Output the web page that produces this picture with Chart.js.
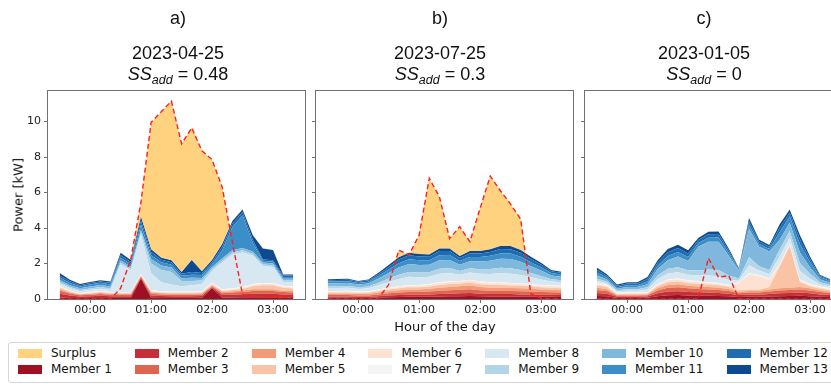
<!DOCTYPE html>
<html>
<head>
<meta charset="utf-8">
<script src="https://cdn.jsdelivr.net/npm/chart.js@4.4.1/dist/chart.umd.min.js"></script>
<style>
  html, body { margin: 0; padding: 0; width: 831px; height: 384px; overflow: hidden; background: #fff; }
  #fig { position: relative; width: 831px; height: 384px; overflow: hidden; }
  #fig canvas { position: absolute; left: 0; top: 0; }
  .ttl { position: absolute; font-family: "Liberation Sans", Arial, sans-serif; font-size: 18px; line-height: 18px;
         color: #111; white-space: nowrap; transform: translateX(-50%); }
  .ttl sub { font-size: 12.5px; font-style: italic; vertical-align: -4px; line-height: 0; }
  .axlab { position: absolute; font-family: "DejaVu Sans", sans-serif; font-size: 13px; line-height: 13px;
           color: #111; white-space: nowrap; }
  #legend { position: absolute; left: 8px; top: 342px; height: 37px; width: max-content; box-sizing: content-box;
            border: 1px solid #d6d6d6; border-radius: 3px; background: #fff; padding: 2px 9px 0 9px;
            display: grid; grid-auto-flow: column; grid-template-rows: 16px 16px; column-gap: 23px;
            font-family: "DejaVu Sans", sans-serif; font-size: 12px; color: #111; }
  #legend .it { display: flex; align-items: center; height: 16px; white-space: nowrap; }
  #legend .sw { display: inline-block; width: 24px; height: 9px; margin-right: 9px; }
</style>
</head>
<body>
<div id="fig">
  <canvas id="chartA" width="860" height="384"></canvas>
  <canvas id="chartB" width="860" height="384"></canvas>
  <canvas id="chartC" width="860" height="384"></canvas>
  <div id="legend"></div>
</div>
<script>
// ---- time axis (minutes relative to 00:00), ticks ----
const minutes = [-30, -20, -10, 0, 10, 20, 30, 40, 50, 60, 70, 80, 90, 100, 110, 120, 130, 140, 150, 160, 170, 180, 190, 200];
const xTicks = [0, 60, 120, 180];
const xTickLabels = ['00:00', '01:00', '02:00', '03:00'];
const yTicks = [0, 2, 4, 6, 8, 10];

// ---- panel headings ----
const panelTags = ['a)', 'b)', 'c)'];
const panelDates = ['2023-04-25', '2023-07-25', '2023-01-05'];
const panelSSadd = [0.48, 0.3, 0];

// ---- 2023-04-25: member consumption [kW] ----
const apr25_m1  = [.08,.06,.05,.05,.06,.05,.05,.05,1.15,.07,.06,.06,.06,.06,.07,.6,.08,.09,.1,.1,.1,.1,.09,.09];
const apr25_m2  = [.22,.14,.09,.11,.12,.11,.1,.1,.05,.12,.11,.1,.1,.1,.1,.06,.14,.15,.17,.2,.2,.2,.17,.16];
const apr25_m3  = [.17,.11,.07,.08,.1,.08,.08,.08,.05,.1,.09,.08,.08,.08,.08,.05,.11,.12,.13,.15,.15,.15,.13,.12];
const apr25_m4  = [.1,.06,.04,.05,.06,.05,.06,.06,.04,.07,.06,.06,.06,.06,.06,.05,.07,.08,.08,.1,.1,.1,.08,.08];
const apr25_m5  = [.07,.05,.03,.04,.05,.04,.04,.04,.04,.05,.05,.05,.05,.05,.05,.06,.06,.07,.09,.17,.22,.22,.16,.14];
const apr25_m6  = [.05,.03,.02,.03,.03,.03,.03,.03,.04,.04,.03,.03,.03,.03,.04,.05,.04,.04,.05,.08,.08,.08,.07,.06];
const apr25_m7  = [.04,.03,.03,.03,.03,.03,.04,.04,.05,.05,.04,.04,.04,.04,.04,.05,.05,.05,.05,.05,.05,.05,.04,.04];
const apr25_m8  = [.15,.12,.1,.12,.13,.12,1.55,1.2,2.2,.95,.5,.4,.3,.35,.4,.65,1.5,1.9,1.95,1.6,.95,.9,.2,.25];
const apr25_m9  = [.09,.08,.08,.08,.09,.08,.1,.1,.12,.55,.7,.7,.3,.25,.2,.12,.12,.12,.12,.1,.1,.1,.1,.1];
const apr25_m10 = [.1,.1,.1,.11,.12,.11,.12,.12,.15,.25,.25,.25,.15,.18,.15,.12,.13,.13,.13,.12,.1,.1,.1,.1];
const apr25_m11 = [.14,.12,.1,.12,.12,.12,.15,.14,.3,.22,.18,.16,.14,.17,.16,.15,.45,1.3,1.83,.5,.1,.1,.1,.1];
const apr25_m12 = [.12,.1,.07,.08,.08,.09,.14,.12,.24,.18,.14,.14,.11,.15,.12,.13,.2,.2,.2,.18,.08,.08,.08,.08];
const apr25_m13 = [.14,.08,.06,.06,.06,.07,.15,.12,.2,.15,.12,.12,.1,.68,.1,.11,.15,.15,.15,.25,.62,.58,.06,.06];
const apr25_pv  = [0,0,0,0,0,0,.6,2.25,5.45,9.95,10.55,11.15,8.75,9.65,8.35,7.85,6.3,3.2,.25,.15,.12,.1,.1,.1];

// ---- 2023-07-25 ----
const jul25_m1  = [.07,.07,.07,.06,.06,.08,.1,.11,.12,.12,.13,.14,.15,.16,.17,.15,.14,.14,.14,.13,.13,.12,.12,.11];
const jul25_m2  = [.07,.07,.07,.06,.06,.08,.1,.11,.12,.12,.13,.14,.15,.16,.17,.15,.14,.14,.14,.13,.13,.12,.12,.11];
const jul25_m3  = [.08,.08,.08,.08,.08,.1,.12,.14,.15,.15,.16,.18,.19,.2,.21,.19,.18,.18,.17,.17,.16,.15,.14,.14];
const jul25_m4  = [.08,.08,.08,.08,.08,.1,.12,.14,.15,.15,.16,.18,.19,.2,.21,.19,.18,.18,.17,.17,.16,.15,.14,.14];
const jul25_m5  = [.06,.06,.07,.06,.07,.08,.09,.1,.12,.12,.13,.15,.16,.15,.17,.15,.15,.15,.14,.14,.13,.12,.12,.11];
const jul25_m6  = [.05,.05,.05,.04,.05,.06,.07,.08,.09,.09,.09,.11,.12,.11,.12,.12,.11,.11,.1,.1,.09,.09,.08,.09];
const jul25_m7  = [.04,.04,.04,.04,.04,.04,.04,.04,.04,.04,.04,.04,.04,.04,.04,.04,.04,.04,.04,.04,.04,.04,.04,.04];
const jul25_m8  = [.17,.17,.17,.15,.17,.24,.32,.41,.46,.44,.42,.48,.46,.35,.4,.43,.47,.51,.52,.47,.39,.31,.22,.2];
const jul25_m9  = [.1,.1,.1,.09,.1,.14,.19,.24,.27,.26,.25,.29,.28,.21,.24,.26,.28,.31,.31,.28,.23,.19,.13,.12];
const jul25_m10 = [.16,.17,.17,.15,.16,.23,.32,.41,.45,.43,.42,.48,.46,.35,.4,.43,.46,.51,.52,.47,.38,.31,.22,.2];
const jul25_m11 = [.1,.1,.1,.09,.1,.14,.19,.24,.27,.26,.25,.28,.28,.21,.24,.25,.28,.3,.31,.28,.23,.19,.13,.12];
const jul25_m12 = [.08,.08,.08,.07,.08,.11,.15,.2,.22,.21,.2,.23,.22,.17,.2,.2,.22,.25,.25,.23,.19,.15,.1,.1];
const jul25_m13 = [.05,.05,.06,.04,.05,.08,.1,.13,.15,.14,.13,.15,.15,.11,.13,.14,.15,.16,.17,.15,.12,.1,.07,.06];
const jul25_pv  = [0,0,0,0,0,.05,.8,2.75,2.48,3.6,6.8,5.76,3.41,4.07,3.23,5.1,6.92,6.1,5.35,4.5,.3,.05,0,0];

// ---- 2023-01-05 ----
const jan05_m1  = [.17,.15,.06,.06,.06,.07,.16,.21,.22,.2,.19,.18,.17,.15,.11,.12,.12,.14,.16,.17,.18,.16,.13,.11];
const jan05_m2  = [.17,.15,.06,.07,.07,.07,.16,.21,.22,.2,.19,.18,.17,.15,.11,.12,.12,.14,.16,.17,.18,.16,.13,.11];
const jan05_m3  = [.17,.15,.06,.06,.06,.07,.16,.21,.22,.2,.19,.18,.17,.15,.11,.12,.12,.14,.16,.17,.18,.16,.13,.11];
const jan05_m4  = [.13,.11,.05,.05,.05,.05,.12,.16,.17,.15,.14,.14,.13,.11,.08,.09,.09,.11,.12,.13,.14,.12,.1,.08];
const jan05_m5  = [.13,.11,.04,.05,.05,.05,.12,.16,.16,.15,.14,.13,.13,.11,.08,.09,.09,.15,1.22,2.33,.28,.12,.1,.08];
const jan05_m6  = [.08,.08,.03,.03,.03,.04,.08,.1,.11,.1,.1,.09,.08,.08,.41,.86,.76,.42,.08,.08,.09,.08,.06,.06];
const jan05_m7  = [.05,.05,.05,.05,.05,.05,.05,.05,.05,.05,.05,.05,.05,.05,.05,.05,.05,.05,.05,.05,.05,.05,.05,.05];
const jan05_m8  = [.13,.09,.07,.09,.09,.13,.27,.34,.36,.32,.32,.37,.38,.27,.1,.45,.26,.25,.43,.37,.48,.29,.12,.1];
const jan05_m9  = [.13,.09,.07,.09,.09,.13,.2,.26,.28,.25,.29,.34,.35,.25,.1,.45,.24,.23,.4,.35,.45,.28,.12,.09];
const jan05_m10 = [.18,.12,.09,.12,.12,.17,.37,.48,.6,.52,1.34,1.56,1.6,1.12,.44,1.6,1.09,1.04,.54,.47,.6,.37,.16,.12];
const jan05_m11 = [.16,.11,.08,.1,.1,.15,.19,.24,.26,.23,.2,.23,.23,.16,.06,.22,.16,.15,.43,.37,.47,.3,.12,.1];
const jan05_m12 = [.15,.1,.08,.1,.1,.14,.16,.21,.22,.2,.17,.2,.2,.14,.06,.2,.14,.13,.25,.21,.28,.17,.07,.06];
const jan05_m13 = [.13,.09,.07,.08,.08,.12,.14,.19,.19,.17,.12,.14,.15,.11,.04,.2,.1,.09,.2,.18,.22,.14,.06,.04];
const jan05_pv  = [0,0,0,0,0,0,0,0,0,0,0,2.3,1.22,1.32,0,0,0,0,0,0,0,0,0,0];

// ---- styling ----
const memberColors = ['#a01025', '#c62f37', '#e0654f', '#f39a76', '#fbc3a6', '#fde2d3', '#f5f5f5',
                      '#d8e8f2', '#b2d5e8', '#7fb8dc', '#3b8ec8', '#1f6cb0', '#0d4a92'];
const surplusColor = 'rgba(255, 165, 0, 0.5)';
const pvColor = '#ff1f1f';
const tickFont = { family: '"DejaVu Sans", sans-serif', size: 11 };
const inkColor = '#222';
const spineColor = '#707070';

const panels = [
  { canvas: 'chartA', members: [apr25_m1, apr25_m2, apr25_m3, apr25_m4, apr25_m5, apr25_m6, apr25_m7, apr25_m8, apr25_m9, apr25_m10, apr25_m11, apr25_m12, apr25_m13], pv: apr25_pv, left: 48, right: 305, yLabels: true, titleX: 178 },
  { canvas: 'chartB', members: [jul25_m1, jul25_m2, jul25_m3, jul25_m4, jul25_m5, jul25_m6, jul25_m7, jul25_m8, jul25_m9, jul25_m10, jul25_m11, jul25_m12, jul25_m13], pv: jul25_pv, left: 316, right: 573, yLabels: false, titleX: 440 },
  { canvas: 'chartC', members: [jan05_m1, jan05_m2, jan05_m3, jan05_m4, jan05_m5, jan05_m6, jan05_m7, jan05_m8, jan05_m9, jan05_m10, jan05_m11, jan05_m12, jan05_m13], pv: jan05_pv, left: 585, right: 842, yLabels: false, titleX: 704 }
];
const plotTop = 91, plotBottom = 299, canvasW = 860, canvasH = 384;
const yAxisBox = 40, xAxisBox = 30;

// frame around each plot area, drawn above the areas
const framePlugin = {
  id: 'frame',
  afterDatasetsDraw(chart) {
    const { ctx, chartArea: a } = chart;
    ctx.save();
    ctx.strokeStyle = spineColor;
    ctx.lineWidth = 1;
    ctx.strokeRect(a.left - 0.5, a.top - 0.5, a.right - a.left + 1, a.bottom - a.top + 1);
    ctx.restore();
  }
};

panels.forEach(p => {
  const datasets = [];
  // production line; the part above the total load is shaded as surplus
  datasets.push({
    label: 'Production', data: p.pv, stack: 'pv',
    borderColor: pvColor, borderWidth: 1.4, borderDash: [5, 3],
    pointRadius: 0, tension: 0,
    fill: { target: 13, above: surplusColor, below: 'rgba(0,0,0,0)' }
  });
  p.members.forEach((vals, k) => {
    datasets.push({
      label: 'Member ' + (k + 1), data: vals, stack: 'load',
      backgroundColor: memberColors[k], borderColor: memberColors[k], borderWidth: 0,
      pointRadius: 0, tension: 0,
      fill: k === 0 ? 'origin' : '-1'
    });
  });

  new Chart(document.getElementById(p.canvas), {
    type: 'line',
    data: { labels: minutes, datasets },
    plugins: [framePlugin],
    options: {
      responsive: false, animation: false, devicePixelRatio: 1, events: [],
      layout: { padding: { left: p.left - yAxisBox, right: canvasW - p.right, top: plotTop, bottom: canvasH - plotBottom - xAxisBox } },
      plugins: { legend: { display: false }, tooltip: { enabled: false }, title: { display: false } },
      scales: {
        x: {
          type: 'linear', min: -41.5, max: 211.5,
          afterBuildTicks: s => { s.ticks = xTicks.map(v => ({ value: v })); },
          afterFit: s => { s.height = xAxisBox; },
          ticks: { callback: v => xTickLabels[xTicks.indexOf(v)], font: tickFont, color: inkColor, padding: 1, maxRotation: 0, autoSkip: false },
          grid: { drawOnChartArea: false, drawTicks: true, tickLength: 4, color: spineColor },
          border: { display: false }
        },
        y: {
          stacked: true, min: 0, max: 11.72,
          afterBuildTicks: s => { s.ticks = yTicks.map(v => ({ value: v })); },
          afterFit: s => { s.width = yAxisBox; },
          ticks: { callback: v => p.yLabels ? String(v) : '', font: tickFont, color: inkColor, padding: 3 },
          grid: { drawOnChartArea: false, drawTicks: true, tickLength: 4, color: spineColor },
          border: { display: false }
        }
      }
    }
  });
});

// headings above each panel
const fig = document.getElementById('fig');
panels.forEach((p, i) => {
  const tag = document.createElement('div');
  tag.className = 'ttl'; tag.style.left = p.titleX + 'px'; tag.style.top = '9px';
  tag.textContent = panelTags[i];
  fig.appendChild(tag);
  const date = document.createElement('div');
  date.className = 'ttl'; date.style.left = p.titleX + 'px'; date.style.top = '44px';
  date.textContent = panelDates[i];
  fig.appendChild(date);
  const ss = document.createElement('div');
  ss.className = 'ttl'; ss.style.left = p.titleX + 'px'; ss.style.top = '65px';
  ss.innerHTML = '<i>SS</i><sub>add</sub> = ' + panelSSadd[i];
  fig.appendChild(ss);
});

// axis labels
const ylab = document.createElement('div');
ylab.className = 'axlab'; ylab.textContent = 'Power [kW]';
ylab.style.left = '18px'; ylab.style.top = '195px';
ylab.style.transform = 'translate(-50%, -50%) rotate(-90deg)';
fig.appendChild(ylab);
const xlab = document.createElement('div');
xlab.className = 'axlab'; xlab.textContent = 'Hour of the day';
xlab.style.left = '445px'; xlab.style.top = '326px';
xlab.style.transform = 'translate(-50%, -50%)';
fig.appendChild(xlab);

// figure legend, two rows filled column by column
const legend = document.getElementById('legend');
const legendEntries = [{ label: 'Surplus', color: surplusColor }]
  .concat(memberColors.map((c, k) => ({ label: 'Member ' + (k + 1), color: c })));
legendEntries.forEach(e => {
  const it = document.createElement('div');
  it.className = 'it';
  const sw = document.createElement('span');
  sw.className = 'sw'; sw.style.background = e.color;
  it.appendChild(sw);
  it.appendChild(document.createTextNode(e.label));
  legend.appendChild(it);
});
</script>
</body>
</html>
